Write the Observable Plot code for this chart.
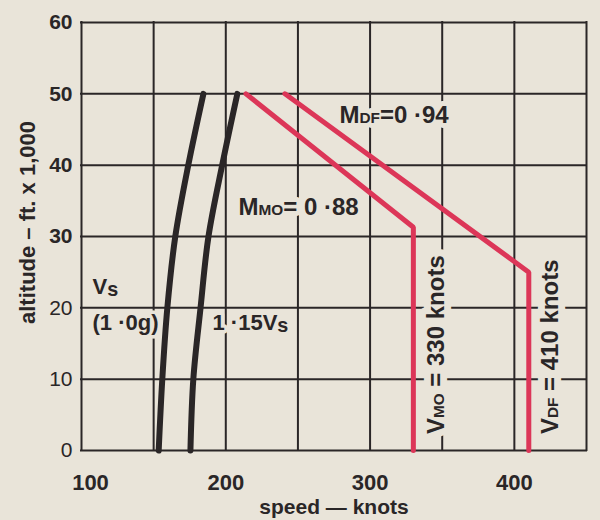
<!DOCTYPE html>
<html><head><meta charset="utf-8">
<script src="https://cdn.jsdelivr.net/npm/d3@7"></script>
<script src="https://cdn.jsdelivr.net/npm/@observablehq/plot@0.6"></script>
<style>
html,body{margin:0;padding:0;background:#e9e4d9;}
#chart svg{display:block;}
</style></head><body><div id="chart"></div>
<script>
// ---- data ----
const speedGrid = [100,150,200,250,300,350,400,450];
const altGrid = [0,10,20,30,40,50,60];
const speedTickFirst = [100];
const speedTickRest = [200,300,400];
const altTicksBold = [30,40,50,60];
const altTicksLight = [0,10,20];
const curveAlt = [0,10,20,30,40,50];
const vsSpeed = [153.5,156,159.5,165,174,184.5];
const vs115Speed = [175.5,177.5,182.5,188,197.5,208];
const mmoAlt = [50,31.3,0];
const mmoSpeed = [214,330,330];
const mdfAlt = [50,25,0];
const mdfSpeed = [241,410,410];
const stallText = ["V{s}","(1 ·0g)","1 ·15V{s}"];
const stallSpeed = [107.6,107.6,190.8];
const stallAlt = [22.9,17.95,17.95];
const machText = ["M{MO}= 0 ·88","M{DF}=0 ·94"];
const machSpeed = [208.8,278.8];
const machAlt = [34.1,47.05];
const limitText = ["V{MO} = 330 knots","V{DF} = 410 knots"];
const limitSpeed = [346,425];
const limitAlt = [2.3,2.3];
const xLabel = "speed — knots";
const yLabel = "altitude – ft. x 1,000";

// ---- build ----
const ink = "#2a2627";
const red = "#dc3658";
const paper = "#e9e4d9";
const rows = (xs, ys) => ys.map((a,i)=>({speed: xs[i], alt: a}));
const labels = (t, xs, ys) => t.map((s,i)=>({text: s, speed: xs[i], alt: ys[i]}));

// a label group = halo layer (paper) + ink layer
function labelGroup(data, opts, halo) {
  const base = {x: "speed", y: "alt", text: "text", textAnchor: "start", lineAnchor: "middle", fontWeight: "bold", ...opts};
  return [
    Plot.text(data, {...base, fill: paper, stroke: paper, strokeWidth: halo, strokeLinejoin: "round"}),
    Plot.text(data, {...base, fill: ink})
  ];
}

const chart = Plot.plot({
  width: 600, height: 520,
  marginLeft: 81, marginRight: 14, marginTop: 22, marginBottom: 70,
  style: {background: paper, fontFamily: "'Liberation Sans', Arial, sans-serif", color: ink},
  x: {domain: [100,450], label: null},
  y: {domain: [0,60], label: null},
  marks: [
    Plot.ruleX(speedGrid, {stroke: ink, strokeWidth: 2, strokeLinecap: "square"}),
    Plot.ruleY(altGrid, {stroke: ink, strokeWidth: 2, strokeLinecap: "square"}),
    ...labelGroup(labels(stallText, stallSpeed, stallAlt), {fontSize: 22}, 7),
    ...labelGroup(labels(machText, machSpeed, machAlt), {fontSize: 24}, 10),
    ...labelGroup(labels(limitText, limitSpeed, limitAlt), {fontSize: 24, rotate: -90}, 14),
    Plot.line(rows(vsSpeed, curveAlt), {x: "speed", y: "alt", stroke: ink, strokeWidth: 6, curve: "catmull-rom"}),
    Plot.line(rows(vs115Speed, curveAlt), {x: "speed", y: "alt", stroke: ink, strokeWidth: 6, curve: "catmull-rom"}),
    Plot.line(rows(mmoSpeed, mmoAlt), {x: "speed", y: "alt", stroke: red, strokeWidth: 5, strokeLinejoin: "miter"}),
    Plot.line(rows(mdfSpeed, mdfAlt), {x: "speed", y: "alt", stroke: red, strokeWidth: 5, strokeLinejoin: "miter"}),
    Plot.axisX({ticks: speedTickFirst, tickSize: 0, tickPadding: 24, dx: 9, fontSize: 22, fontWeight: "bold", label: null}),
    Plot.axisX({ticks: speedTickRest, tickSize: 0, tickPadding: 24, fontSize: 22, fontWeight: "bold", label: null}),
    Plot.axisY({ticks: altTicksBold, tickSize: 0, tickPadding: 9, fontSize: 21, fontWeight: "bold", label: null}),
    Plot.axisY({ticks: altTicksLight, tickSize: 0, tickPadding: 9, fontSize: 21, fontWeight: "normal", label: null}),
    Plot.text([xLabel], {text: d => d, frameAnchor: "bottom", textAnchor: "middle", dy: 63, fontSize: 21, fontWeight: "bold", fill: ink}),
    Plot.text([yLabel], {text: d => d, frameAnchor: "left", textAnchor: "middle", rotate: -90, dx: -54, dy: -14, fontSize: 22, fontWeight: "bold", fill: ink})
  ]
});

// subscripts: {..} parts become smaller tspans
d3.select(chart).selectAll("text").each(function(){
  const t = this.textContent;
  if (!t.includes("{")) return;
  const parts = t.split(/(\{[^}]*\})/).filter(s => s);
  const sel = d3.select(this);
  sel.text(null);
  let shifted = false;
  parts.forEach(p => {
    if (p.startsWith("{")) {
      const sub = p.slice(1,-1);
      const lower = /^[a-z]+$/.test(sub);
      sel.append("tspan").attr("font-size", lower ? "0.9em" : "0.64em").attr("dy", lower ? 2 : 0).text(sub);
      shifted = lower;
    } else {
      const ts = sel.append("tspan").text(p);
      if (shifted) ts.attr("dy", -2);
      shifted = false;
    }
  });
});

document.getElementById("chart").appendChild(chart);
</script>
</body></html>
